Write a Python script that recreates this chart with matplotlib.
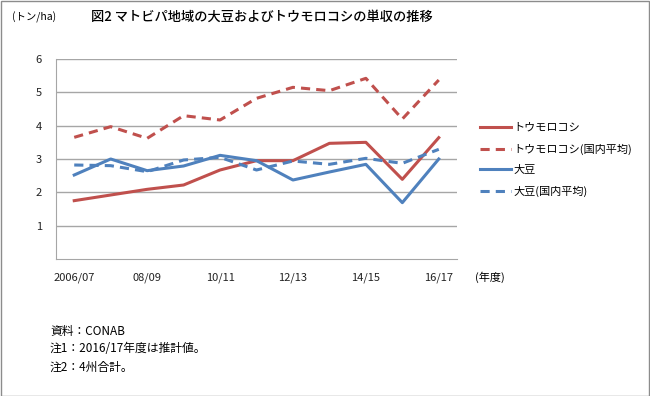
import matplotlib
matplotlib.use("Agg")
import matplotlib.pyplot as plt
from matplotlib.patches import Rectangle

plt.rcParams['font.family'] = ['Noto Sans CJK JP', 'DejaVu Sans']

years = ["2006/07", "07/08", "08/09", "09/10", "10/11", "11/12",
         "12/13", "13/14", "14/15", "15/16", "16/17"]
tick_labels = ["2006/07", "", "08/09", "", "10/11", "", "12/13", "", "14/15", "", "16/17"]
corn = [1.75, 1.92, 2.09, 2.22, 2.67, 2.95, 2.95, 3.47, 3.50, 2.39, 3.64]
corn_nat = [3.65, 3.97, 3.62, 4.30, 4.17, 4.82, 5.15, 5.05, 5.42, 4.20, 5.37]
soy = [2.52, 3.00, 2.65, 2.79, 3.11, 2.95, 2.37, 2.61, 2.84, 1.69, 3.00]
soy_nat = [2.82, 2.80, 2.62, 2.97, 3.05, 2.67, 2.94, 2.84, 3.02, 2.87, 3.29]

RED = "#C0504D"
BLUE = "#4F81BD"

W, H = 650, 396
fig = plt.figure(figsize=(W / 100, H / 100), dpi=100)
fig.patch.set_facecolor("white")
fig.patches.append(Rectangle((0.5 / W, 0.5 / H), 1 - 1.5 / W, 1 - 1.5 / H,
                             transform=fig.transFigure, fill=False,
                             edgecolor="#8c8c8c", linewidth=1))

ax = fig.add_axes([56 / W, 137 / H, (457 - 56) / W, 200 / H])
x = list(range(len(years)))
ax.plot(x, corn, color=RED, lw=2.2, label="トウモロコシ")
ax.plot(x, corn_nat, color=RED, lw=2.2, ls=(0, (3, 2)), label="トウモロコシ(国内平均)")
ax.plot(x, soy, color=BLUE, lw=2.2, label="大豆")
ax.plot(x, soy_nat, color=BLUE, lw=2.2, ls=(0, (3, 2)), label="大豆(国内平均)")

ax.set_xlim(-0.5, len(years) - 0.5)
ax.set_ylim(0, 6)
ax.set_yticks([1, 2, 3, 4, 5, 6])
ax.set_xticks(x)
ax.set_xticklabels(tick_labels, fontsize=8)
ax.tick_params(axis='both', length=0, labelsize=8, colors="#222222")
ax.tick_params(axis='x', pad=10)
ax.tick_params(axis='y', pad=10)
ax.grid(axis='y', color="#a6a6a6", lw=1)
ax.set_axisbelow(True)
for s in ['top', 'right']:
    ax.spines[s].set_visible(False)
ax.spines['left'].set_color("#a6a6a6")
ax.spines['bottom'].set_color("#a6a6a6")

fig.text(262 / W, 1 - 17 / H, "図2 マトビパ地域の大豆およびトウモロコシの単収の推移",
         ha="center", va="center", fontsize=9.5, fontweight="medium")
fig.text(12 / W, 1 - 17 / H, "(トン/ha)", ha="left", va="center", fontsize=7.5)
fig.text(490 / W, 1 - 277 / H, "(年度)", ha="center", va="center", fontsize=8)

leg = ax.legend(loc="upper left", bbox_to_anchor=(470 / W, 1 - 113 / H),
                bbox_transform=fig.transFigure, frameon=False, fontsize=8,
                handlelength=2.8, handletextpad=0.2, labelspacing=0.95)

notes = ["資料：CONAB", "注1：2016/17年度は推計値。", "注2：4州合計。"]
for i, t in enumerate(notes):
    fig.text(50 / W, 1 - (331 + 18 * i) / H, t, ha="left", va="center", fontsize=8.5)

fig.savefig("out.png", dpi=100)
